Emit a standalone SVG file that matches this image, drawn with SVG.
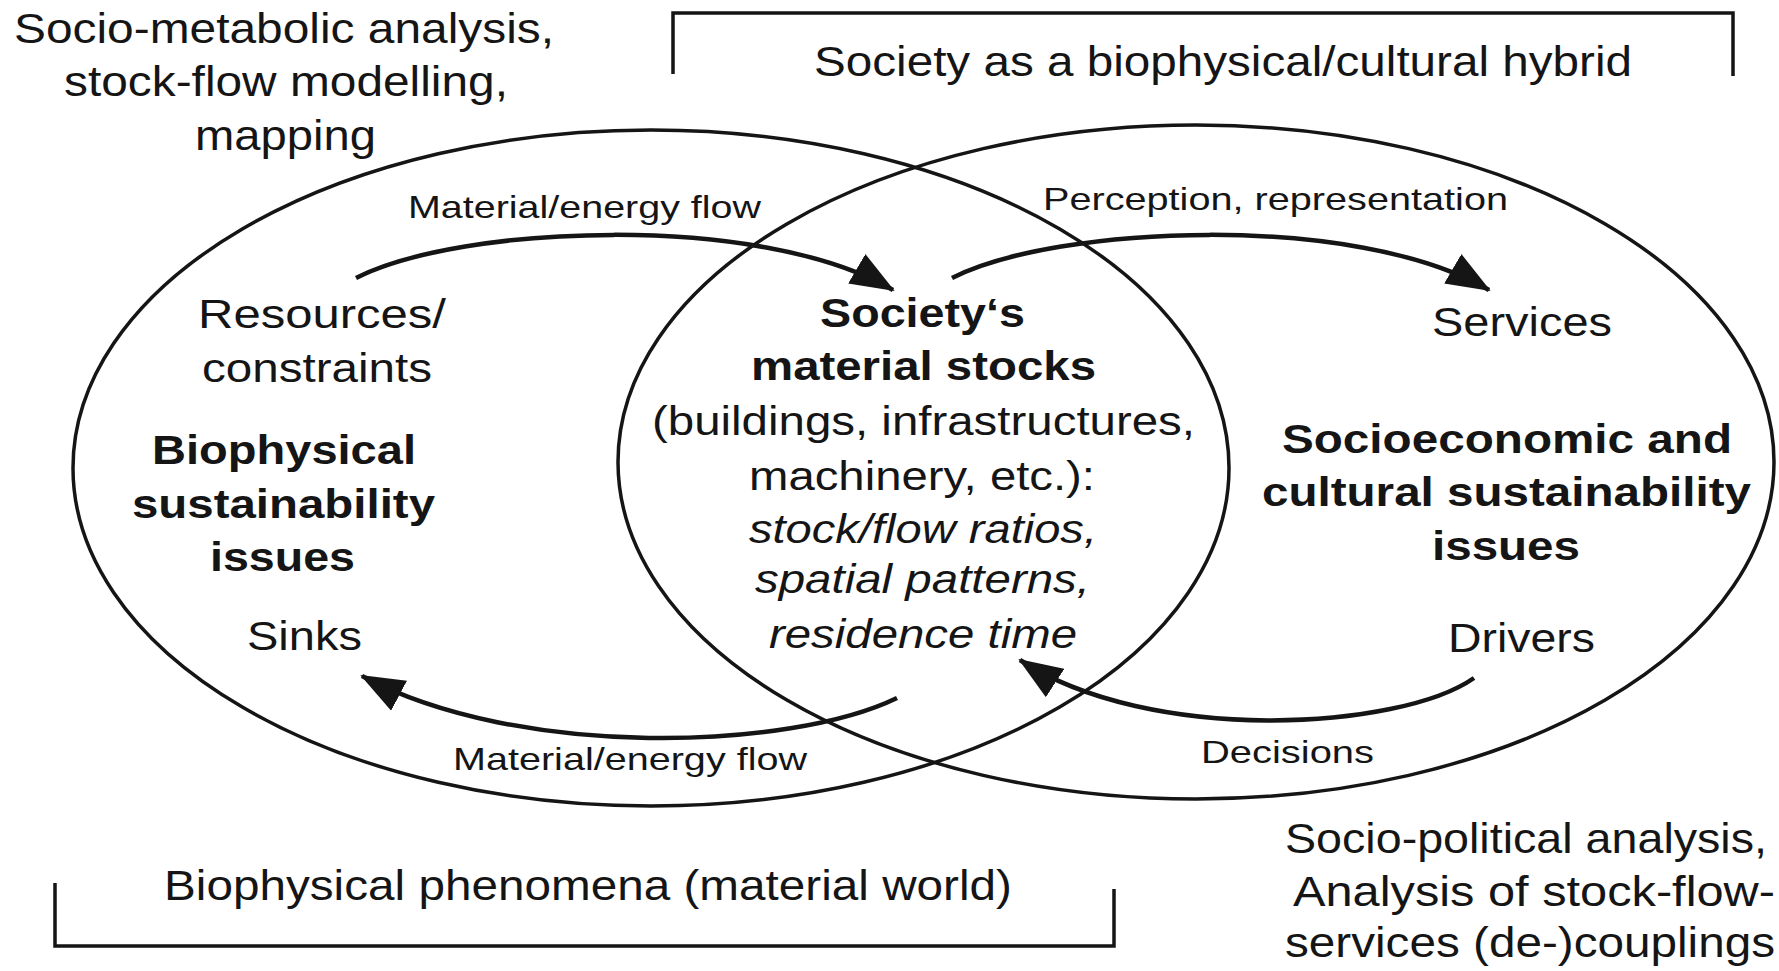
<svg xmlns="http://www.w3.org/2000/svg" width="1779" height="971" viewBox="0 0 1779 971">
<style>
text{font-family:"Liberation Sans",Arial,Helvetica,sans-serif;fill:#151515}
.big{font-size:42px}
.mid{font-size:41px}
.bold{font-size:40px;font-weight:bold}
.ital{font-size:41px;font-style:italic}
.lab{font-size:32px}
.shape{fill:none;stroke:#151515;stroke-width:3.5}
.arrow{fill:none;stroke:#151515;stroke-width:4.5;marker-end:url(#head)}
</style>
<defs>
<marker id="head" markerUnits="userSpaceOnUse" markerWidth="46" markerHeight="34" viewBox="0 0 46 34" refX="42" refY="17" orient="auto">
<path d="M0,0 L44,17 L0,34 Z" fill="#151515"/>
</marker>
</defs>
<rect width="1779" height="971" fill="#ffffff"/>

<g id="bracket-top"><path class="shape" d="M673,74 V13 H1733 V76"/></g>
<g id="bracket-bottom"><path class="shape" d="M55,883 V946 H1114 V889"/></g>

<g id="biophysical-ellipse">
<ellipse class="shape" cx="651" cy="468" rx="578" ry="338"/>
</g>
<g id="socioeconomic-ellipse">
<ellipse class="shape" cx="1196" cy="462" rx="578" ry="337"/>
</g>

<g id="connectors">
<path class="arrow" d="M356,278 C460,225 760,212 893,290"/>
<path class="arrow" d="M952,278 C1056,225 1356,212 1489,290"/>
<path class="arrow" d="M897,698 C790,750 520,760 362,676"/>
<path class="arrow" d="M1474,678 C1400,730 1150,745 1020,660"/>
</g>

<g id="label-methods-left">
<text class="big" x="14" y="43" textLength="540" lengthAdjust="spacingAndGlyphs">Socio-metabolic analysis,</text>
<text class="big" x="64" y="96" textLength="444" lengthAdjust="spacingAndGlyphs">stock-flow modelling,</text>
<text class="big" x="195" y="150" textLength="181" lengthAdjust="spacingAndGlyphs">mapping</text>
</g>
<g id="label-hybrid">
<text class="big" x="814" y="76" textLength="818" lengthAdjust="spacingAndGlyphs">Society as a biophysical/cultural hybrid</text>
</g>
<g id="label-flow-top">
<text class="lab" x="408" y="218" textLength="353" lengthAdjust="spacingAndGlyphs">Material/energy flow</text>
</g>
<g id="label-perception">
<text class="lab" x="1043" y="210" textLength="465" lengthAdjust="spacingAndGlyphs">Perception, representation</text>
</g>
<g id="node-resources">
<text class="mid" x="198" y="328" textLength="248" lengthAdjust="spacingAndGlyphs">Resources/</text>
<text class="mid" x="202" y="382" textLength="230" lengthAdjust="spacingAndGlyphs">constraints</text>
</g>
<g id="node-biophysical">
<text class="bold" x="152" y="464" textLength="264" lengthAdjust="spacingAndGlyphs">Biophysical</text>
<text class="bold" x="132" y="518" textLength="303" lengthAdjust="spacingAndGlyphs">sustainability</text>
<text class="bold" x="210" y="571" textLength="145" lengthAdjust="spacingAndGlyphs">issues</text>
</g>
<g id="node-sinks">
<text class="mid" x="247" y="650" textLength="115" lengthAdjust="spacingAndGlyphs">Sinks</text>
</g>
<g id="node-stocks">
<text class="bold" x="820" y="327" textLength="205" lengthAdjust="spacingAndGlyphs">Society‘s</text>
<text class="bold" x="751" y="380" textLength="345" lengthAdjust="spacingAndGlyphs">material stocks</text>
<text class="mid" x="652" y="435" textLength="543" lengthAdjust="spacingAndGlyphs">(buildings, infrastructures,</text>
<text class="mid" x="749" y="490" textLength="346" lengthAdjust="spacingAndGlyphs">machinery, etc.):</text>
<text class="ital" x="749" y="543" textLength="348" lengthAdjust="spacingAndGlyphs">stock/flow ratios,</text>
<text class="ital" x="755" y="593" textLength="335" lengthAdjust="spacingAndGlyphs">spatial patterns,</text>
<text class="ital" x="769" y="648" textLength="308" lengthAdjust="spacingAndGlyphs">residence time</text>
</g>
<g id="node-services">
<text class="mid" x="1432" y="336" textLength="180" lengthAdjust="spacingAndGlyphs">Services</text>
</g>
<g id="node-socioeconomic">
<text class="bold" x="1282" y="453" textLength="450" lengthAdjust="spacingAndGlyphs">Socioeconomic and</text>
<text class="bold" x="1262" y="506" textLength="489" lengthAdjust="spacingAndGlyphs">cultural sustainability</text>
<text class="bold" x="1432" y="560" textLength="148" lengthAdjust="spacingAndGlyphs">issues</text>
</g>
<g id="node-drivers">
<text class="mid" x="1448" y="652" textLength="147" lengthAdjust="spacingAndGlyphs">Drivers</text>
</g>
<g id="label-decisions">
<text class="lab" x="1201" y="763" textLength="173" lengthAdjust="spacingAndGlyphs">Decisions</text>
</g>
<g id="label-flow-bottom">
<text class="lab" x="453" y="770" textLength="354" lengthAdjust="spacingAndGlyphs">Material/energy flow</text>
</g>
<g id="label-material-world">
<text class="big" x="164" y="900" textLength="848" lengthAdjust="spacingAndGlyphs">Biophysical phenomena (material world)</text>
</g>
<g id="label-methods-right">
<text class="big" x="1285" y="853" textLength="482" lengthAdjust="spacingAndGlyphs">Socio-political analysis,</text>
<text class="big" x="1293" y="906" textLength="482" lengthAdjust="spacingAndGlyphs">Analysis of stock-flow-</text>
<text class="big" x="1285" y="957" textLength="490" lengthAdjust="spacingAndGlyphs">services (de-)couplings</text>
</g>
</svg>
